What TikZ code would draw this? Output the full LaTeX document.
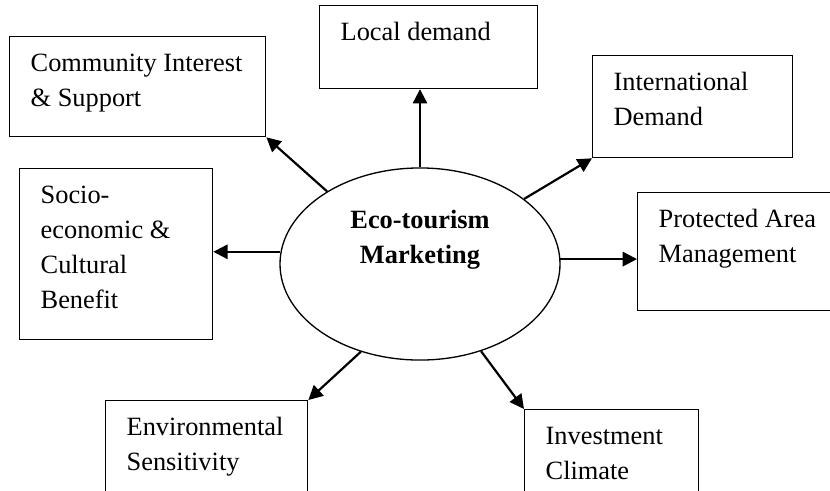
\documentclass[tikz,border=0pt]{standalone}
\usepackage{fontspec}
\setmainfont{Liberation Serif}
\usetikzlibrary{arrows.meta,shapes.geometric}

\begin{document}
\begin{tikzpicture}[x=0.455pt,y=-0.455pt,
    box/.style = {rectangle,draw,line width=0.6pt,anchor=north west,align=flush left,inner xsep=9.56pt,inner ysep=0pt,text height=15.9pt,font=\fontsize{12}{15.9}\selectfont},
    hub/.style = {ellipse,draw,line width=0.6pt,minimum width=127.4pt,minimum height=87.4pt,inner sep=0pt},
    arr/.style = {-{Triangle[length=6.5pt,width=6.5pt]},line width=1pt}]
\useasboundingbox (0,0) rectangle (830,490);
\clip (0,0) rectangle (830,490);
\node[hub] (eco) at (420,264) {};
\node[font=\fontsize{12}{15.9}\selectfont\bfseries,align=center] (title) at (420,240) {Eco-tourism\\Marketing};
\node[box,text width=97.4pt,text depth=29.6pt] (comm) at (9,36) {Community~Interest\\\& Support};
\node[box,text width=80.1pt,text depth=21.8pt] (local) at (319,5) {Local demand};
\node[box,text width=71.9pt,text depth=30.5pt] (intl) at (592,55) {International\\Demand};
\node[box,text width=76.4pt,text depth=37.8pt] (prot) at (637,192) {Protected~Area\\Management};
\node[box,text width=68.7pt,text depth=61.9pt] (socio) at (19,168) {Socio-\\economic \&\\Cultural\\Benefit};
\node[box,text width=72.8pt,text depth=43.2pt] (env) at (105,400) {Environmental\\Sensitivity};
\node[box,text width=60.1pt,text depth=43.2pt] (invest) at (524,409) {Investment\\Climate};
\draw[arr] (eco.north) -- (eco.north |- local.south);
\draw[arr] (eco.142) -- (comm.south east);
\draw[arr] (eco.32) -- (intl.south west);
\draw[arr] (eco.2) -- (eco.2 -| prot.west);
\draw[arr] (eco.175) -- (eco.175 -| socio.east);
\draw[arr] (eco.236) -- (env.north east);
\draw[arr] (eco.305) -- (invest.north west);
\end{tikzpicture}
\end{document}
